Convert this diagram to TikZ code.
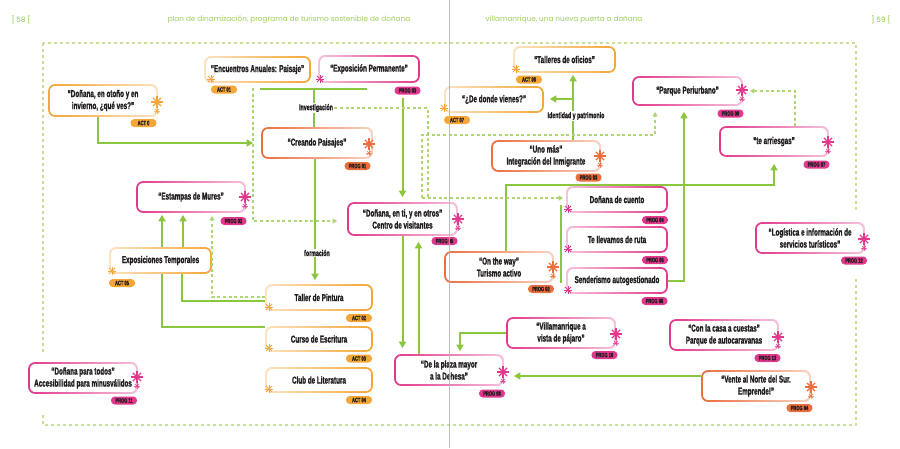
\documentclass[tikz,border=0pt]{standalone}
\usepackage{fontspec}
\setmainfont{Liberation Sans}
\newfontfamily\bxf[FakeStretch=0.63, BoldFeatures={FakeBold=1.4}]{Liberation Sans}
\newfontfamily\hdf{Poppins}
\usetikzlibrary{arrows.meta,calc,fadings}
\definecolor{cGr}{HTML}{8CC63F}
\definecolor{cDs}{HTML}{B0D574}
\definecolor{cBd}{HTML}{C8E09A}
\definecolor{cOr}{HTML}{F4A636}
\definecolor{cRd}{HTML}{EC6E3D}
\definecolor{cPk}{HTML}{E2388E}
\definecolor{cTx}{HTML}{231F20}
\definecolor{cGy}{HTML}{B4B4B4}
\tikzfading[name=fadeR, left color=transparent!100, right color=transparent!30]
\tikzfading[name=fadeL, left color=transparent!30, right color=transparent!100]
\tikzset{
  nbox/.style={rounded corners=6pt, line width=1.7pt, fill=white, draw=#1, align=center,
    inner sep=0pt, text=cTx, font=\bxf\bfseries\fontsize{10}{12}\selectfont},
  fr/.style={postaction={draw=white, line width=2pt, path fading=fadeR}},
  fl/.style={postaction={draw=white, line width=2pt, path fading=fadeL}},
  ptag/.style={rounded corners=3.8pt, fill=#1, minimum width=26pt, minimum height=8pt,
    inner sep=0pt, text=cTx, font=\bxf\bfseries\fontsize{6.4}{7}\selectfont},
  lbl/.style={fill=white, inner sep=1.2pt, text=cTx, font=\bxf\bfseries\fontsize{8.4}{9}\selectfont},
  gline/.style={draw=cGr, line width=2pt},
  garr/.style={gline, -{Triangle[length=6.5pt,width=7pt]}},
  gdash/.style={draw=cDs, line width=1.3pt, dash pattern=on 3pt off 2.6pt},
  darr/.style={gdash, -{Triangle[length=4.5pt,width=5pt]}},
  hdr/.style={font=\hdf\fontsize{7.3}{8}\selectfont, inner sep=0pt},
  astB/.pic={
    \foreach \a in {0,45,90,135}{\draw[line width=1.3pt] (0,-3) +(\a:5.8) -- +(\a+180:5.8);}
    \foreach \a in {0,45,90,135}{\draw[line width=0.9pt, opacity=0.7] (0,6) +(\a:2.8) -- +(\a+180:2.8);}
  },
  astS/.pic={
    \foreach \a in {0,45,90,135}{\draw[line width=1pt] (0,0) +(\a:4.4) -- +(\a+180:4.4);}
  }
}
\begin{document}
\begin{tikzpicture}[x=1pt,y=-1pt]
\useasboundingbox (0,0) rectangle (900,448);
\fill[white] (0,0) rectangle (900,448);

% headers
\node[hdr, text=cGr] (p58) at (21,20) {] 58 [};
\node[hdr, text=cGr!85] (h1) at (289,20) {plan de dinamización, programa de turismo sostenible de doñana};
\node[hdr, text=cGr!85] (h2) at (564,20) {villamanrique, una nueva puerta a doñana};
\node[hdr, text=cGr] (p59) at (881,20) {] 59 [};

% dashed frame
\draw[draw=cBd, line width=1.2pt, dash pattern=on 3pt off 3pt] (43,43) rectangle (856,425);
\fill[white] (20,352) rectangle (150,412);
\fill[white] (748,212) rectangle (872,276);

% boxes
\node[nbox=cOr, fr, minimum width=108pt, minimum height=31pt] (otono) at (103,100.5) {“Doñana, en otoño y en\\invierno, ¿qué ves?”};
\node[nbox=cOr, fl, minimum width=105pt, minimum height=25pt] (encuentros) at (257.5,69.5) {“Encuentros Anuales: Paisaje”};
\node[nbox=cPk, fl, minimum width=100pt, minimum height=26pt] (exposicion) at (369,69) {“Exposición Permanente”};
\node[nbox=cRd, fr, minimum width=110pt, minimum height=30pt] (creando) at (317,143) {“Creando Paisajes”};
\node[nbox=cPk, fr, minimum width=108pt, minimum height=30pt] (estampas) at (191,197) {“Estampas de Mures”};
\node[nbox=cOr, fl, minimum width=101pt, minimum height=25pt] (expotemp) at (160.5,260.5) {Exposiciones Temporales};
\node[nbox=cOr, fl, minimum width=106pt, minimum height=25pt] (pintura) at (319,297.5) {Taller de Pintura};
\node[nbox=cOr, fl, minimum width=106pt, minimum height=24pt] (escritura) at (319,339) {Curso de Escritura};
\node[nbox=cOr, fl, minimum width=106pt, minimum height=24pt] (literatura) at (319,380) {Club de Literatura};
\node[nbox=cPk, fr, minimum width=109pt, minimum height=32pt] (dnti) at (402.5,219) {“Doñana, en ti, y en otros”\\Centro de visitantes};
\node[nbox=cPk, fr, minimum width=108pt, minimum height=30pt] (plaza) at (449,370) {“De la plaza mayor\\a la Dehesa”};
\node[nbox=cPk, fr, minimum width=108pt, minimum height=30pt] (vista) at (561,333) {“Villamanrique a\\vista de pájaro”};
\node[nbox=cRd, fr, minimum width=108pt, minimum height=30pt] (vente) at (756,386) {“Vente al Norte del Sur.\\Emprende!”};
\node[nbox=cPk, fr, minimum width=108pt, minimum height=30pt] (casa) at (724,335) {“Con la casa a cuestas”\\Parque de autocaravanas};
\node[nbox=cPk, fr, minimum width=108pt, minimum height=30pt] (logistica) at (810,238) {“Logística e información de\\servicios turísticos”};
\node[nbox=cPk, fr, minimum width=108pt, minimum height=30pt] (todos) at (83,378) {“Doñana para todos”\\Accesibilidad para minusválidos};
\node[nbox=cOr, fl, minimum width=101pt, minimum height=25pt] (talleres) at (564.5,59.5) {“Talleres de oficios”};
\node[nbox=cOr, fl, minimum width=98pt, minimum height=25pt] (vienes) at (494,99.5) {“¿De donde vienes?”};
\node[nbox=cRd, fr, minimum width=108pt, minimum height=30pt] (unomas) at (546,156) {“Uno más”\\Integración del Inmigrante};
\node[nbox=cPk, fr, minimum width=109pt, minimum height=28pt] (parque) at (687.5,91) {“Parque Periurbano”};
\node[nbox=cPk, fr, minimum width=108pt, minimum height=29pt] (arriesgas) at (774,141.5) {“te arriesgas”};
\node[nbox=cRd, fr, minimum width=108pt, minimum height=30pt] (onway) at (499,267) {“On the way”\\Turismo activo};
\node[nbox=cPk, fl, minimum width=100pt, minimum height=25pt] (cuento) at (617,199.5) {Doñana de cuento};
\node[nbox=cPk, fl, minimum width=100pt, minimum height=25pt] (ruta) at (617,239.5) {Te llevamos de ruta};
\node[nbox=cPk, fl, minimum width=100pt, minimum height=25pt] (sender) at (617,280.5) {Senderismo autogestionado};

% tags
\node[ptag=cOr] (tOtono) at (143.5,123) {ACT 0};
\node[ptag=cOr] (tEnc) at (224,89.5) {ACT 01};
\node[ptag=cPk] (tExpo) at (407.5,90.5) {PROG 03};
\node[ptag=cRd] (tCrea) at (357.5,166) {PROG 01};
\node[ptag=cPk] (tEst) at (233.5,221) {PROG 02};
\node[ptag=cOr] (tTemp) at (122,283) {ACT 05};
\node[ptag=cOr] (tPint) at (359,318) {ACT 02};
\node[ptag=cOr] (tEsc) at (359,358.5) {ACT 03};
\node[ptag=cOr] (tLit) at (359,400) {ACT 04};
\node[ptag=cPk] (tDnti) at (444.5,241) {PROG 05};
\node[ptag=cPk] (tPlaza) at (492,393.5) {PROG 08};
\node[ptag=cPk] (tVista) at (604.5,355) {PROG 10};
\node[ptag=cRd] (tVente) at (799.5,408) {PROG 04};
\node[ptag=cPk] (tCasa) at (767.5,358) {PROG 13};
\node[ptag=cPk] (tLog) at (854,260.5) {PROG 12};
\node[ptag=cPk] (tTodos) at (124,400.5) {PROG 11};
\node[ptag=cOr] (tTall) at (529,79.5) {ACT 08};
\node[ptag=cOr] (tVien) at (457,120) {ACT 07};
\node[ptag=cRd] (tUno) at (588.5,177.5) {PROG 03};
\node[ptag=cPk] (tParq) at (730.5,113.5) {PROG 09};
\node[ptag=cPk] (tArr) at (816.5,164.5) {PROG 07};
\node[ptag=cRd] (tWay) at (541,289) {PROG 02};
\node[ptag=cPk] (tCuen) at (655,220) {PROG 04};
\node[ptag=cPk] (tRuta) at (655,260) {PROG 05};
\node[ptag=cPk] (tSend) at (654.5,301) {PROG 06};

% solid connectors
\draw[garr, shorten >=8pt] ([xshift=-5pt]otono.south) |- (creando.west);
\coordinate (bl) at (260,89); \coordinate (br) at (367,89); \coordinate (bj) at (314,89);
\draw[gline] (bl) -- (br);
\draw[gline] (bj) -- (bj |- creando.north);
\draw[garr, shorten >=4pt] ([xshift=-2pt]creando.south) -- ([xshift=-2pt]creando.south |- pintura.north);
\draw[garr, shorten <=3pt, shorten >=5pt] (tExpo.south -| dnti.north) -- (dnti.north);
\draw[garr, shorten >=6pt] (dnti.south) -- (dnti.south |- plaza.north);
\draw[garr, shorten >=6pt] ([xshift=16pt]dnti.south |- plaza.north) -- ([xshift=16pt]dnti.south);
\draw[garr, shorten >=3pt] (vista.west) -| ([xshift=11pt]plaza.north);
\draw[garr, shorten >=10pt] ([yshift=-6pt]plaza.east -| vente.west) -- ([yshift=-6pt]plaza.east);
\draw[garr, shorten >=2pt] ([xshift=1.5pt]expotemp.north) -- ([xshift=1.5pt]expotemp.north |- estampas.south);
\draw[garr, shorten >=2pt] ([xshift=22.5pt]expotemp.north) -- ([xshift=22.5pt]expotemp.north |- estampas.south);
\draw[gline] ([xshift=21.5pt]expotemp.south) |- ([yshift=-3.5pt]pintura.west);
\draw[gline] ([xshift=1.5pt]expotemp.south) |- ([yshift=12pt]escritura.west);
\draw[garr, shorten >=2pt] ([xshift=27pt]unomas.north) -- ([xshift=27pt]unomas.north |- talleres.south);
\coordinate (i1) at (573,99);
\draw[garr, shorten >=6pt] (i1) -- (i1 -| vienes.east);
\draw[garr, shorten >=7pt] ([xshift=7pt]onway.north) |- ([yshift=-28pt]arriesgas.south) -- (arriesgas.south);
\draw[garr, shorten >=6pt] (sender.east) -| ([xshift=-3.5pt]parque.south);
\draw[gline] ([xshift=-5pt,yshift=-5.5pt]cuento.west) -- ([xshift=-5pt,yshift=-2.5pt]sender.west);

% labels
\node[lbl] (inv) at (316,108) {Investigación};
\node[lbl] (form) at (317,253) {formación};
\node[lbl] (idp) at (576,116) {Identidad y patrimonio};

% dashed connectors
\draw[darr, shorten >=3pt] ([yshift=0.5pt]pintura.west) -| ([xshift=21pt]estampas.south);
\coordinate (d1) at (253,88);
\draw[darr, shorten >=10pt] (d1) |- ([yshift=-2pt]dnti.west);
\coordinate (d2) at (428,108); \coordinate (d3) at (428,198);
\coordinate (d4) at (422,198); \coordinate (d5) at (422,135);
\draw[gdash] (inv.east) -- (d2) -- (d3);
\draw[darr, shorten >=3pt] (d4) -- ([yshift=1.5pt]cuento.west);
\draw[darr, shorten >=6pt] (d4) -- (d5) -| ([xshift=-32.5pt]parque.south);
\draw[darr, shorten >=7pt] ([xshift=21pt]arriesgas.north) |- (parque.east);

% asterisks
\foreach \p/\c in {{(157,105)}/cOr, {(369,147)}/cRd, {(245,200)}/cPk, {(458,222)}/cPk, {(503,375)}/cPk,
  {(616,337)}/cPk, {(811,390)}/cRd, {(778,340)}/cPk, {(864,242)}/cPk, {(137,380)}/cPk,
  {(600,159)}/cRd, {(742,93)}/cPk, {(828,145)}/cPk, {(553,270)}/cRd}
  {\pic[color=\c] at \p {astB};}
\foreach \p/\c in {{(211,79)}/cOr, {(320,79)}/cPk, {(112,271)}/cOr, {(269,307)}/cOr, {(269,348)}/cOr,
  {(269,389)}/cOr, {(516,69)}/cOr, {(444,108)}/cOr, {(568,209)}/cPk, {(568,249)}/cPk, {(568,290)}/cPk}
  {\pic[color=\c] at \p {astS};}

% page fold
\draw[cGy, line width=1pt, opacity=0.85] (449,0) -- (449,448);
\end{tikzpicture}
\end{document}
